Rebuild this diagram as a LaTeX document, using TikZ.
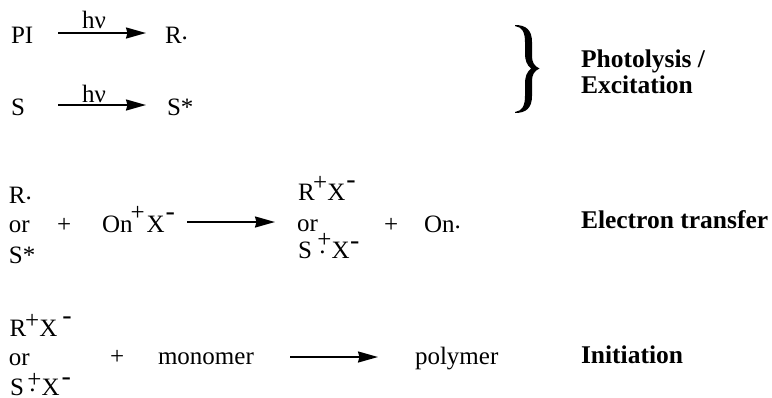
\documentclass[tikz,border=0pt]{standalone}
\usepackage{fontspec}
\setmainfont{Liberation Serif}
\usetikzlibrary{arrows.meta}
% #1 kern before, #2 raise, #3 kern after
\newcommand{\psup}[3]{\kern#1pt\raisebox{#2pt}{+}\kern#3pt}
% #1 kern before, #2 raise
\newcommand{\msup}[2]{\kern#1pt\raisebox{#2pt}{\fontsize{28}{28}\selectfont -}}
% #1 kern before, #2 raise of plus, #3 raise of dot
\newcommand{\radsup}[3]{\kern#1pt\rlap{\kern2pt\raisebox{#3pt}{.}}\raisebox{#2pt}{+}}
\newcommand{\rdot}{\raisebox{4pt}{.}}
\tikzset{
  every node/.style={inner sep=0pt,outer sep=0pt},
  chem/.style={anchor=base west,font=\fontsize{25}{25}\selectfont},
  lab/.style={anchor=base west,font=\fontsize{25.5}{25.5}\selectfont\bfseries},
  rxn/.style={line width=1.9pt,-{Stealth[length=20pt,width=11pt,inset=1.5pt]}}
}
\begin{document}
\begin{tikzpicture}[x=1pt,y=-1pt]
\useasboundingbox (0,0) rectangle (772,397);
% row 1
\node[chem] (pi) at (11,43) {PI};
\node[chem] (hv1) at (82,28) {hν};
\node[chem] (r1) at (165,43) {R\rdot};
\coordinate (a1s) at (58,33); \coordinate (a1e) at (146,33);
\draw[rxn] (a1s) -- (a1e);
% row 2
\node[chem] (s1) at (11,115) {S};
\node[chem] (hv2) at (82,102) {hν};
\node[chem] (ss1) at (167,115) {S*};
\coordinate (a2s) at (58,105); \coordinate (a2e) at (146,105);
\draw[rxn] (a2s) -- (a2e);
% brace
\fill (515,25) .. controls (526,25) and (532,30) .. (532,42)
  -- (532,56) .. controls (532,62) and (534,66) .. (539.5,68.5)
  .. controls (534,71) and (532,75) .. (532,81)
  -- (532,96) .. controls (532,108) and (526,113) .. (515,113)
  -- (515,112) .. controls (522,111) and (525,106) .. (525,96)
  -- (525,84) .. controls (525,76) and (527,72) .. (531,68.5)
  .. controls (527,65) and (525,61) .. (525,53)
  -- (525,42) .. controls (525,32) and (522,27) .. (515,26) -- cycle;
\node[lab] (l1a) at (581,67) {Photolysis /};
\node[lab] (l1b) at (581,93) {Excitation};
% row 3
\node[chem] (r2) at (9,203) {R\rdot};
\node[chem] (or2) at (9,232) {or};
\node[chem] (ss2) at (9,263) {S*};
\node[chem] (p2) at (57,232) {+};
\node[chem] (on) at (102,232) {On\psup{-2}{12}{2}X\msup{1}{11.5}};
\coordinate (a3s) at (187,222); \coordinate (a3e) at (275,222);
\draw[rxn] (a3s) -- (a3e);
\node[chem] (rx2) at (298,200) {R\psup{-1.5}{9.5}{0}X\msup{1}{12}};
\node[chem] (or3) at (297,231) {or};
\node[chem] (sx2) at (298,258) {S\radsup{5.5}{10.5}{4.5}X\msup{0.5}{9}};
\node[chem] (p3) at (384,232) {+};
\node[chem] (onr) at (424,232) {On\rdot};
\node[lab] (l2) at (581,228) {Electron transfer};
% row 4
\node[chem] (rx3) at (9.5,336) {R\psup{-1}{7.3}{0}X\msup{5}{12}};
\node[chem] (or4) at (9,365) {or};
\node[chem] (sx3) at (10,395) {S\radsup{3.5}{8}{3.5}X\msup{2}{10}};
\node[chem] (p4) at (110,364) {+};
\node[chem] (mono) at (158,364) {monomer};
\coordinate (a4s) at (290,357); \coordinate (a4e) at (378,357);
\draw[rxn] (a4s) -- (a4e);
\node[chem] (poly) at (415,364) {polymer};
\node[lab] (l3) at (581,363) {Initiation};
\end{tikzpicture}
\end{document}
